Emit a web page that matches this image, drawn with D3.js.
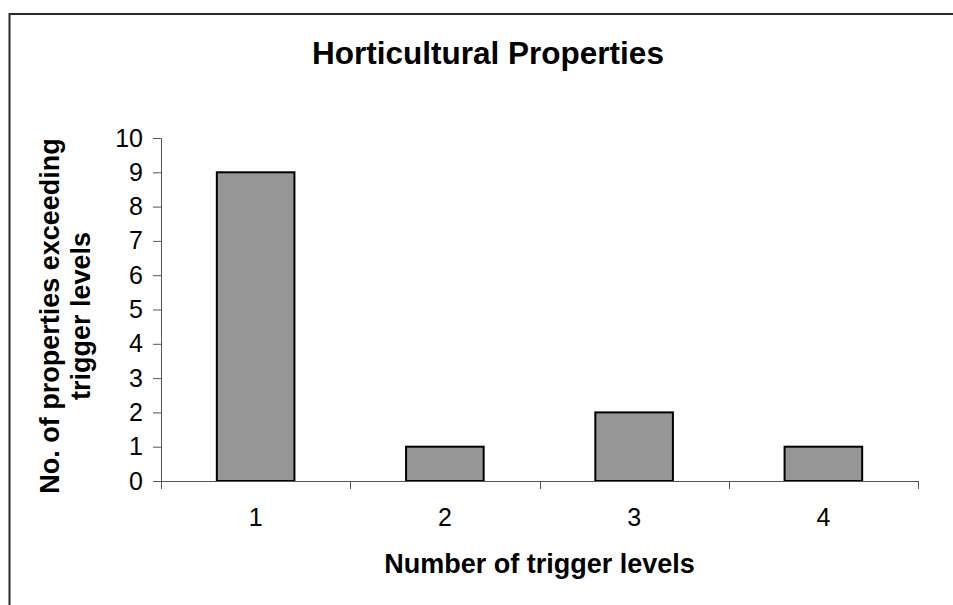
<!DOCTYPE html>
<html>
<head>
<meta charset="utf-8">
<script src="https://cdn.jsdelivr.net/npm/d3@7"></script>
<style>
  html, body { margin: 0; padding: 0; background: #fff; }
  svg { display: block; }
  text { font-family: "Liberation Sans", Arial, sans-serif; fill: #000; }
</style>
</head>
<body>
<script>
const categories = ["1", "2", "3", "4"];
const values = [9, 1, 2, 1];
const yTicks = [0, 1, 2, 3, 4, 5, 6, 7, 8, 9, 10];
const titleText = "Horticultural Properties";
const xTitle = "Number of trigger levels";
const yTitleLines = ["No. of properties exceeding", "trigger levels"];

const W = 953, H = 605;
const svg = d3.select("body").append("svg").attr("width", W).attr("height", H);

// outer chart border (extends past right/bottom edge)
svg.append("rect")
  .attr("x", 9.5).attr("y", 14)
  .attr("width", W + 20).attr("height", H + 20)
  .attr("fill", "#fff").attr("stroke", "#2a2a2a").attr("stroke-width", 2);

const pLeft = 161, pRight = 918, pTop = 138, pBottom = 481;

const x = d3.scaleBand().domain(categories).range([pLeft, pRight])
  .paddingInner(0.59).paddingOuter(0.295);
const y = d3.scaleLinear().domain([0, 10]).range([pBottom, pTop]);

// bars
svg.append("g").selectAll("rect").data(values).join("rect")
  .attr("x", (d, i) => x(categories[i]))
  .attr("y", d => y(d))
  .attr("width", x.bandwidth())
  .attr("height", d => y(0) - y(d))
  .attr("fill", "#969696")
  .attr("stroke", "#000")
  .attr("stroke-width", 2);

const axisColor = "#555";

// y axis
const yAxis = svg.append("g").attr("transform", `translate(${pLeft},0)`)
  .call(d3.axisLeft(y).tickValues(yTicks).tickSize(8).tickPadding(10).tickFormat(d3.format("d")));
yAxis.select(".domain").attr("stroke", axisColor);
yAxis.selectAll(".tick line").attr("stroke", axisColor);
yAxis.selectAll(".tick text").attr("font-size", 25).attr("font-family", "Liberation Sans, Arial, sans-serif");

// x axis line
svg.append("line").attr("x1", pLeft).attr("x2", pRight)
  .attr("y1", pBottom + 0.5).attr("y2", pBottom + 0.5)
  .attr("stroke", axisColor).attr("stroke-width", 1);

// x tick marks at category boundaries
const step = x.step();
const bounds = categories.map(c => x(c) - (step - x.bandwidth()) / 2).concat([pRight]);
svg.append("g").selectAll("line").data(bounds).join("line")
  .attr("x1", d => Math.round(d) + 0.5).attr("x2", d => Math.round(d) + 0.5)
  .attr("y1", pBottom).attr("y2", pBottom + 8)
  .attr("stroke", axisColor);

// x tick labels
svg.append("g").selectAll("text").data(categories).join("text")
  .attr("x", d => x(d) + x.bandwidth() / 2)
  .attr("y", 526)
  .attr("text-anchor", "middle")
  .attr("font-size", 25)
  .text(d => d);

// title
svg.append("text")
  .attr("x", 488).attr("y", 64)
  .attr("text-anchor", "middle")
  .attr("font-size", 31.5).attr("font-weight", "bold")
  .text(titleText);

// x axis title
svg.append("text")
  .attr("x", (pLeft + pRight) / 2).attr("y", 573)
  .attr("text-anchor", "middle")
  .attr("font-size", 27).attr("font-weight", "bold")
  .text(xTitle);

// y axis title
const yt = svg.append("text")
  .attr("transform", "translate(59,316) rotate(-90)")
  .attr("text-anchor", "middle")
  .attr("font-size", 27).attr("font-weight", "bold");
yTitleLines.forEach((t, i) => {
  yt.append("tspan").attr("x", 0).attr("y", i * 31).text(t);
});
</script>
</body>
</html>
